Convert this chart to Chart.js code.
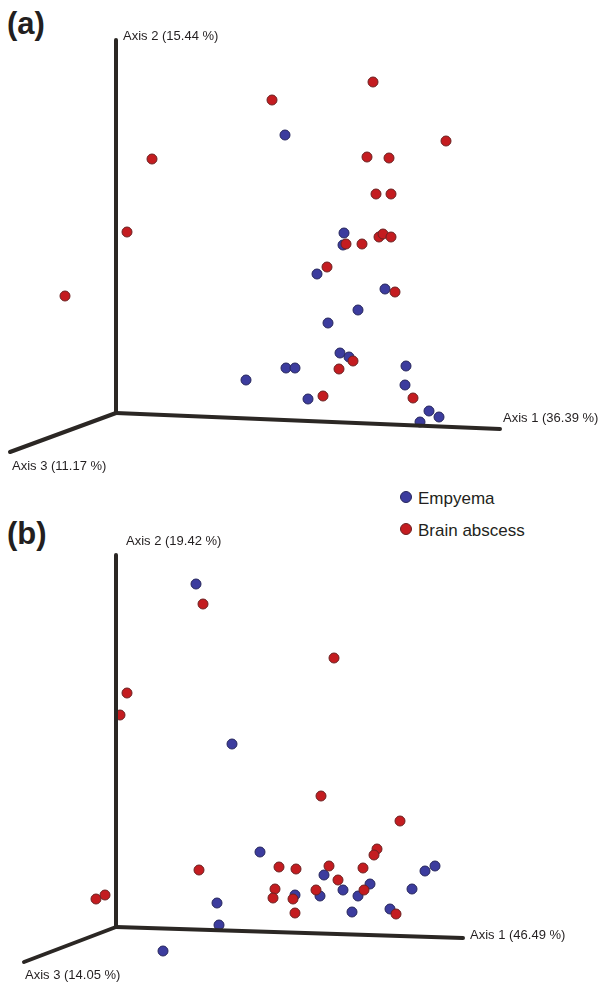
<!DOCTYPE html>
<html>
<head>
<meta charset="utf-8">
<script src="https://cdn.jsdelivr.net/npm/chart.js@4"></script>
<style>
  body { margin: 0; background: #fff; width: 600px; height: 985px; position: relative; overflow: hidden; font-family: "Liberation Sans", Arial, sans-serif; }
  canvas { position: absolute; left: 0; }
  .panel { position: absolute; font-weight: bold; font-size: 31px; color: #231f20; }
  .leg { position: absolute; font-size: 17px; color: #231f20; }
  .leg span { display: inline-block; width: 10px; height: 10px; border-radius: 50%; margin-right: 6px; vertical-align: 1px; }
</style>
</head>
<body>
<div class="panel" style="left:7px;top:6px">(a)</div>
<div class="panel" style="left:7px;top:516px">(b)</div>
<div class="leg" style="left:400px;top:489px"><span style="background:#3c3c9e;border:1px solid #26265c"></span>Empyema</div>
<div class="leg" style="left:400px;top:521px"><span style="background:#c41c20;border:1px solid #6b2121"></span>Brain abscess</div>
<canvas id="chartA" style="top:0" width="600" height="480"></canvas>
<canvas id="chartB" style="top:490px" width="600" height="495"></canvas>
<script>
// projected PCoA coordinates, origin = corner of the 3 axes, y upwards
const aEmpyemaX = [169, 228, 227, 201, 269, 242, 212, 224, 233, 170, 179, 130, 192, 290, 289, 313, 323, 304];
const aEmpyemaY = [278, 180, 168, 139, 124, 103, 90, 60, 56, 45, 45, 33, 14, 47, 28, 2, -4, -9];
const aAbscessX = [257, 156, 36, 11, -51, 330, 251, 273, 260, 275, 230, 246, 263, 267, 275, 211, 279, 237, 223, 207, 297];
const aAbscessY = [331, 313, 254, 181, 117, 272, 256, 255, 219, 219, 169, 169, 176, 179, 176, 146, 121, 52, 44, 17, 15];

const bEmpyemaX = [80, 116, 144, 309, 319, 208, 227, 254, 296, 179, 204, 242, 101, 236, 274, 103, 47];
const bEmpyemaY = [343, 183, 75, 56, 61, 52, 37, 43, 38, 32, 31, 31, 24, 15, 18, 2, -24];
const bAbscessX = [87, 218, 11, 4, 205, 284, 261, 258, 83, 163, 180, 213, 247, 222, 159, 200, 248, 157, 177, 179, 280, -20, -11];
const bAbscessY = [323, 269, 234, 212, 131, 106, 78, 72, 57, 60, 58, 61, 59, 47, 38, 37, 37, 29, 28, 14, 13, 28, 32];

// axis end points (axis 1, axis 2, axis 3) and labels
const axisLabelsA = ['Axis 1 (36.39 %)', 'Axis 2 (15.44 %)', 'Axis 3 (11.17 %)'];
const axisEndsA = [[384, -16], [0, 373], [-106, -39]];
const axisLabelsB = ['Axis 1 (46.49 %)', 'Axis 2 (19.42 %)', 'Axis 3 (14.05 %)'];
const axisEndsB = [[347, -11], [0, 372], [-92, -35]];

const zip = (xs, ys) => xs.map((x, i) => ({ x: x, y: ys[i] }));

const axisLabelPlugin = {
  id: 'axisLabels',
  afterDatasetsDraw(chart, args, opts) {
    const { ctx, scales } = chart;
    ctx.save();
    ctx.font = '13px "Liberation Sans", Arial, sans-serif';
    ctx.fillStyle = '#231f20';
    ctx.textBaseline = 'middle';
    opts.labels.forEach((txt, i) => {
      const px = scales.x.getPixelForValue(opts.ends[i][0]);
      const py = scales.y.getPixelForValue(opts.ends[i][1]);
      const off = opts.offsets[i];
      ctx.fillText(txt, px + off[0], py + off[1]);
    });
    ctx.restore();
  }
};

function makeChart(id, empX, empY, absX, absY, ends, labels, offsets, originTop, height) {
  const axisSets = ends.map(e => ({
    type: 'line',
    data: [{ x: 0, y: 0 }, { x: e[0], y: e[1] }],
    borderColor: '#2b2724',
    borderWidth: 4,
    borderCapStyle: 'round',
    pointRadius: 0,
    clip: false
  }));
  const point = (fill, border) => ({
    backgroundColor: fill,
    borderColor: border,
    borderWidth: 1,
    pointRadius: 5,
    clip: false
  });
  return new Chart(document.getElementById(id), {
    type: 'scatter',
    data: {
      datasets: axisSets.concat([
        Object.assign({ label: 'Brain abscess', data: zip(absX, absY) }, point('#c41c20', '#6b2121')),
        Object.assign({ label: 'Empyema', data: zip(empX, empY) }, point('#3c3c9e', '#26265c'))
      ])
    },
    options: {
      responsive: false,
      animation: false,
      layout: { padding: 0, autoPadding: false },
      scales: {
        x: { type: 'linear', display: false, min: -116, max: 484 },
        y: { type: 'linear', display: false, min: originTop - height, max: originTop }
      },
      plugins: {
        legend: { display: false },
        tooltip: { enabled: false },
        axisLabels: { labels: labels, ends: ends, offsets: offsets }
      }
    },
    plugins: [axisLabelPlugin]
  });
}

makeChart('chartA', aEmpyemaX, aEmpyemaY, aAbscessX, aAbscessY, axisEndsA,
  axisLabelsA, [[3, -11], [7, -4], [2, 14]], 413, 480);
makeChart('chartB', bEmpyemaX, bEmpyemaY, bAbscessX, bAbscessY, axisEndsB,
  axisLabelsB, [[7, -3], [10, -14], [1, 13]], 437, 495);
</script>
</body>
</html>
